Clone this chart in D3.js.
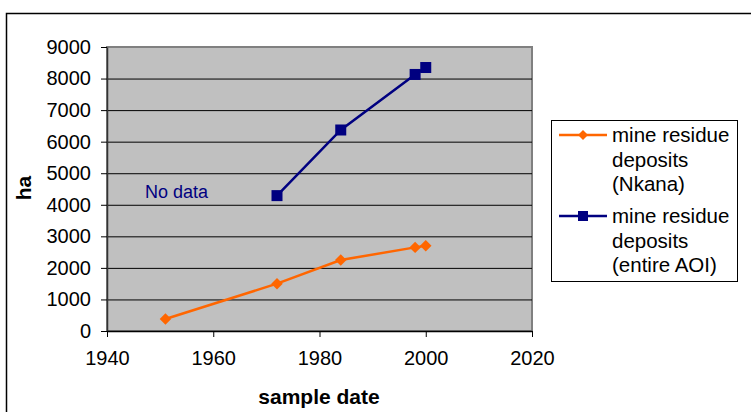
<!DOCTYPE html>
<html><head><meta charset="utf-8">
<script src="https://cdn.jsdelivr.net/npm/d3@7"></script>
<style>
html,body{margin:0;padding:0;background:#fff;}
svg text{font-family:"Liberation Sans",Arial,sans-serif;}
</style></head>
<body>
<svg id="c" width="751" height="412"></svg>
<script>
const yearsNkana = [1951, 1972, 1984, 1998, 2000];
const valuesNkana = [380, 1500, 2250, 2650, 2700];
const yearsAOI = [1972, 1984, 1998, 2000];
const valuesAOI = [4290, 6370, 8130, 8350];
const xTicks = [1940, 1960, 1980, 2000, 2020];
const yTicks = [0, 1000, 2000, 3000, 4000, 5000, 6000, 7000, 8000, 9000];
const seriesNames = [["mine residue", "deposits", "(Nkana)"], ["mine residue", "deposits", "(entire AOI)"]];
const seriesColors = ["#FF6600", "#000080"];

const svg = d3.select("#c");
const L = 107, R = 532, T = 47, B = 331;
const x = d3.scaleLinear().domain([1940, 2020]).range([L, R]);
const y = d3.scaleLinear().domain([0, 9000]).range([B, T]);

// outer chart border
svg.append("rect").attr("x", 6.5).attr("y", 13.5).attr("width", 900).attr("height", 600)
  .attr("fill", "none").attr("stroke", "#000").attr("stroke-width", 1.5);

// plot area
svg.append("rect").attr("x", L).attr("y", T).attr("width", R - L).attr("height", B - T)
  .attr("fill", "#C0C0C0").attr("stroke", "#808080").attr("stroke-width", 2);

// gridlines
const grid = svg.append("g").attr("transform", `translate(${L},0)`)
  .call(d3.axisLeft(y).tickValues(yTicks.filter(v => v > 0 && v < 9000)).tickSize(-(R - L)).tickFormat(""));
grid.select(".domain").remove();
grid.selectAll("line").attr("stroke", "#000").attr("stroke-width", 1);

// y axis
const ya = svg.append("g").attr("transform", `translate(${L},0)`)
  .call(d3.axisLeft(y).tickValues(yTicks).tickFormat(d3.format("d")).tickSize(6).tickPadding(10).tickSizeOuter(0));
ya.select(".domain").attr("stroke", "#333").attr("stroke-width", 1.5);
ya.selectAll("line").attr("stroke", "#000");
ya.selectAll("text").attr("font-size", 20).attr("fill", "#000").attr("font-family", "Liberation Sans, Arial, sans-serif");

// x axis
const xa = svg.append("g").attr("transform", `translate(0,${B})`)
  .call(d3.axisBottom(x).tickValues(xTicks).tickFormat(d3.format("d")).tickSize(6).tickPadding(14).tickSizeOuter(0));
xa.select(".domain").attr("stroke", "#000").attr("stroke-width", 1.5);
xa.selectAll("line").attr("stroke", "#000");
xa.selectAll("text").attr("font-size", 20).attr("fill", "#000").attr("font-family", "Liberation Sans, Arial, sans-serif");

// axis titles
svg.append("text").attr("x", 319).attr("y", 404).attr("text-anchor", "middle")
  .attr("font-weight", "bold").attr("font-size", 21).text("sample date");
svg.append("text").attr("transform", "translate(31,188) rotate(-90)").attr("text-anchor", "middle")
  .attr("font-weight", "bold").attr("font-size", 21).text("ha");

// No data label
svg.append("text").attr("x", 145).attr("y", 198).attr("font-size", 18).attr("fill", "#000080").text("No data");

const line = d3.line().x(d => x(d[0])).y(d => y(d[1]));

// Nkana series
const dN = yearsNkana.map((yr, i) => [yr, valuesNkana[i]]);
svg.append("path").datum(dN).attr("d", line).attr("fill", "none").attr("stroke", seriesColors[0]).attr("stroke-width", 2.5);
svg.selectAll(".mN").data(dN).join("path").attr("class", "mN")
  .attr("d", d3.symbol().type(d3.symbolSquare).size(66))
  .attr("transform", d => `translate(${x(d[0])},${y(d[1])}) rotate(45)`)
  .attr("fill", seriesColors[0]);

// AOI series
const dA = yearsAOI.map((yr, i) => [yr, valuesAOI[i]]);
svg.append("path").datum(dA).attr("d", line).attr("fill", "none").attr("stroke", seriesColors[1]).attr("stroke-width", 2.5);
svg.selectAll(".mA").data(dA).join("rect").attr("class", "mA")
  .attr("x", d => x(d[0]) - 5.5).attr("y", d => y(d[1]) - 5.5).attr("width", 11).attr("height", 11)
  .attr("fill", seriesColors[1]);

// legend
const lg = svg.append("g");
lg.append("rect").attr("x", 551.5).attr("y", 120.5).attr("width", 186).attr("height", 161)
  .attr("fill", "#fff").attr("stroke", "#000").attr("stroke-width", 1);
const legY = [135, 216];
seriesNames.forEach((lines, i) => {
  const cy = legY[i];
  lg.append("line").attr("x1", 559).attr("x2", 607).attr("y1", cy).attr("y2", cy)
    .attr("stroke", seriesColors[i]).attr("stroke-width", 2.5);
  if (i === 0) {
    lg.append("path").attr("d", d3.symbol().type(d3.symbolSquare).size(50)())
      .attr("transform", `translate(583,${cy}) rotate(45)`).attr("fill", seriesColors[i]);
  } else {
    lg.append("rect").attr("x", 578).attr("y", cy - 5).attr("width", 10).attr("height", 10).attr("fill", seriesColors[i]);
  }
  lines.forEach((t, j) => {
    lg.append("text").attr("x", 612).attr("y", cy + 7 + j * 24.5).attr("font-size", 20.5).attr("fill", "#000").text(t);
  });
});
</script>
</body></html>
